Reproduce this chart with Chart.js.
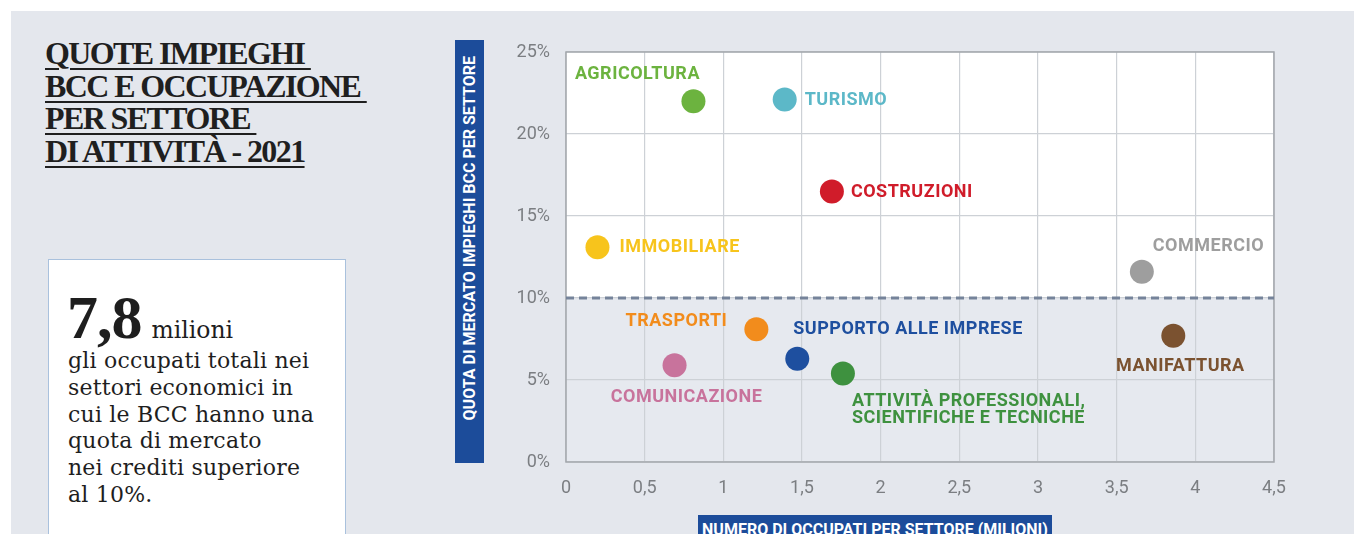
<!DOCTYPE html>
<html>
<head>
<meta charset="utf-8">
<script src="https://cdn.jsdelivr.net/npm/chart.js@4.4.1/dist/chart.umd.min.js"></script>
<style>
  html, body { margin: 0; padding: 0; background: #ffffff; }
  body { width: 1354px; height: 534px; position: relative; overflow: hidden; }
  #pannello { position: absolute; left: 11px; top: 11px; width: 1343px; height: 523px; background: #e4e7ed; }
  #titolo { position: absolute; left: 45px; top: 37px; font-family: "Liberation Serif", serif; font-weight: 700;
            font-size: 32px; line-height: 32.5px; letter-spacing: -1.6px; color: #1f1f1f; }
  #titolo span { text-decoration: underline; text-decoration-thickness: 2px; text-underline-offset: 4px; }
  #box { position: absolute; left: 48px; top: 259px; width: 298px; height: 300px; background: #ffffff;
         border: 1.5px solid #a9c1dd; box-sizing: border-box; color: #1e1e1e; }
  #grande { position: absolute; left: 18px; top: 26px; line-height: 62px; white-space: nowrap; }
  #grande b { font-family: "Liberation Serif", serif; font-size: 62px; letter-spacing: -1px; }
  #grande span { font-family: "DejaVu Serif", serif; font-size: 23.5px; margin-left: 10px; }
  #testo { position: absolute; left: 19px; top: 88px; font-family: "DejaVu Serif", serif; font-size: 22px;
           line-height: 26.8px; letter-spacing: 0.2px; white-space: nowrap; }
  #asseY { position: absolute; left: 455px; top: 40px; width: 29px; height: 423px; background: #1c4c9a;
           display: flex; align-items: center; justify-content: center; }
  #asseY div { writing-mode: vertical-rl; transform: rotate(180deg); color: #ffffff; font-family: Roboto, sans-serif;
               font-weight: 700; font-size: 16px; white-space: nowrap; margin-top: -26px; }
  #asseX { position: absolute; left: 698px; top: 515px; width: 354px; height: 30px; background: #1c4c9a;
           color: #ffffff; font-family: Roboto, sans-serif; font-weight: 700; font-size: 16px; text-align: center;
           line-height: 16px; padding-top: 7px; box-sizing: border-box; white-space: nowrap; }
  #contenitore { position: absolute; left: 490px; top: 0px; width: 864px; height: 534px; }
</style>
</head>
<body>
<div id="pannello"></div>
<div id="titolo">
  <div><span>QUOTE IMPIEGHI&nbsp;</span></div>
  <div><span>BCC E OCCUPAZIONE&nbsp;</span></div>
  <div><span>PER SETTORE&nbsp;</span></div>
  <div><span>DI ATTIVITÀ - 2021</span></div>
</div>
<div id="box">
  <div id="grande"><b>7,8</b><span>milioni</span></div>
  <div id="testo">gli occupati totali nei<br>settori economici in<br>cui le BCC hanno una<br>quota di mercato<br>nei crediti superiore<br>al 10%.</div>
</div>
<div id="asseY"><div>QUOTA DI MERCATO IMPIEGHI BCC PER SETTORE</div></div>
<div id="asseX">NUMERO DI OCCUPATI PER SETTORE (MILIONI)</div>
<div id="contenitore"><canvas id="grafico"></canvas></div>

<script>
// dati
const settori = ['AGRICOLTURA', 'TURISMO', 'COSTRUZIONI', 'IMMOBILIARE', 'COMMERCIO', 'MANIFATTURA',
                 'TRASPORTI', 'SUPPORTO ALLE IMPRESE', 'COMUNICAZIONE', 'ATTIVITÀ PROFESSIONALI,\nSCIENTIFICHE E TECNICHE'];
const occupati = [0.81, 1.39, 1.69, 0.20, 3.66, 3.86, 1.21, 1.47, 0.69, 1.76];   // milioni
const quote = [22.0, 22.1, 16.5, 13.1, 11.6, 7.7, 8.1, 6.3, 5.9, 5.4];          // %
const soglia = 10;
const tickX = [0, 0.5, 1, 1.5, 2, 2.5, 3, 3.5, 4, 4.5];
const tickY = [0, 5, 10, 15, 20, 25];

const colori = ['#6cb33f', '#5cb8c8', '#d01c2a', '#f7c41c', '#9e9e9e', '#7b5230',
                '#f28c1c', '#1e4f9f', '#c8739c', '#3e913f'];

// posizione delle etichette rispetto al punto
const posEtichette = [
    { dx: -56, dy: -27, align: 'center' },
    { dx: 20, dy: 1, align: 'left' },
    { dx: 19, dy: 1, align: 'left' },
    { dx: 22, dy: 0, align: 'left' },
    { dx: 11, dy: -25, align: 'left' },
    { dx: 7, dy: 31, align: 'center' },
    { dx: -29, dy: -8, align: 'right' },
    { dx: -4, dy: -29, align: 'left' },
    { dx: 12, dy: 32, align: 'center' },
    { dx: 9, dy: 28, align: 'left' }
];

const sfondoArea = {
    id: 'sfondoArea',
    beforeDraw(chart) {
        const { ctx, chartArea: a, scales } = chart;
        const ySoglia = scales.y.getPixelForValue(soglia);
        ctx.save();
        ctx.fillStyle = '#ffffff';
        ctx.fillRect(a.left, a.top, a.right - a.left, ySoglia - a.top);
        ctx.fillStyle = '#e6e9ef';
        ctx.fillRect(a.left, ySoglia, a.right - a.left, a.bottom - ySoglia);
        ctx.restore();
    },
    beforeDatasetsDraw(chart) {
        const { ctx, chartArea: a, scales } = chart;
        const ySoglia = scales.y.getPixelForValue(soglia);
        ctx.save();
        ctx.strokeStyle = '#a3a7ac';
        ctx.lineWidth = 1.5;
        ctx.strokeRect(a.left, a.top, a.right - a.left, a.bottom - a.top);
        ctx.strokeStyle = '#75839a';
        ctx.lineWidth = 3;
        ctx.setLineDash([8, 5]);
        ctx.beginPath();
        ctx.moveTo(a.left, ySoglia);
        ctx.lineTo(a.right, ySoglia);
        ctx.stroke();
        ctx.restore();
    }
};

const etichette = {
    id: 'etichette',
    afterDatasetsDraw(chart) {
        const ctx = chart.ctx;
        const meta = chart.getDatasetMeta(0);
        ctx.save();
        ctx.font = '700 18px Roboto';
        ctx.letterSpacing = '0.5px';
        ctx.textBaseline = 'middle';
        meta.data.forEach((p, i) => {
            const pos = posEtichette[i];
            ctx.fillStyle = colori[i];
            ctx.textAlign = pos.align;
            settori[i].split('\n').forEach((riga, k) => {
                ctx.fillText(riga, p.x + pos.dx, p.y + pos.dy + k * 17);
            });
        });
        ctx.restore();
    }
};

const punti = occupati.map((x, i) => ({ x: x, y: quote[i] }));

new Chart(document.getElementById('grafico'), {
    type: 'scatter',
    data: {
        datasets: [{
            data: punti,
            backgroundColor: colori,
            borderWidth: 0,
            pointRadius: 12,
            pointHoverRadius: 12
        }]
    },
    options: {
        responsive: true,
        maintainAspectRatio: false,
        animation: false,
        layout: { padding: { left: 0, top: 52, right: 80, bottom: 32 } },
        plugins: { legend: { display: false }, tooltip: { enabled: false } },
        scales: {
            x: {
                type: 'linear', min: tickX[0], max: tickX[tickX.length - 1],
                afterFit: s => { s.height = 40; },
                afterBuildTicks: s => { s.ticks = tickX.map(v => ({ value: v })); },
                grid: { color: '#cdd1d6', lineWidth: 1.2, drawTicks: false },
                border: { display: false },
                ticks: {
                    padding: 16, color: '#7b7e82', font: { family: 'Roboto', size: 18 },
                    callback: v => String(v).replace('.', ',')
                }
            },
            y: {
                min: tickY[0], max: tickY[tickY.length - 1],
                afterFit: s => { s.width = 76; },
                afterBuildTicks: s => { s.ticks = tickY.map(v => ({ value: v })); },
                grid: { color: '#cdd1d6', lineWidth: 1.2, drawTicks: false },
                border: { display: false },
                ticks: {
                    padding: 16, color: '#7b7e82', font: { family: 'Roboto', size: 18 },
                    callback: v => v + '%'
                }
            }
        }
    },
    plugins: [sfondoArea, etichette]
});
</script>
</body>
</html>
